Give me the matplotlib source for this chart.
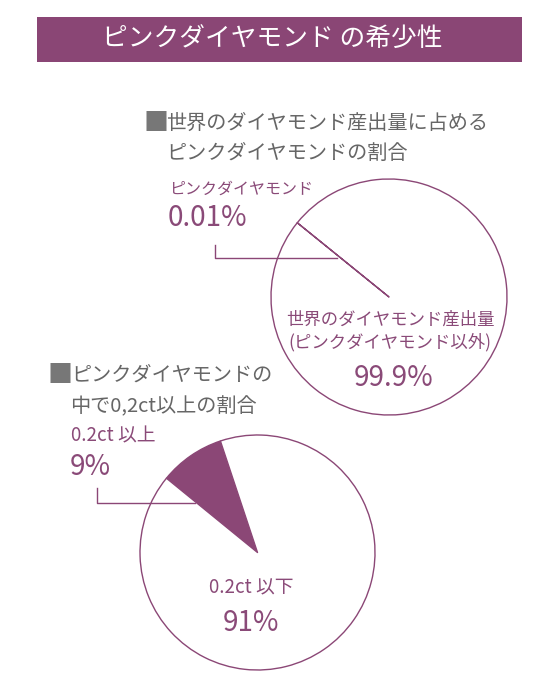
import matplotlib
matplotlib.use("Agg")
import matplotlib.pyplot as plt
from matplotlib.patches import Rectangle

plt.rcParams['font.family'] = ['Noto Sans CJK JP', 'DejaVu Sans']

W, H = 540, 679
purple = '#8b4776'
text_purple = '#8a4a78'
gray = '#666666'

title = 'ピンクダイヤモンド の希少性'

# chart 1: pink diamonds in world production
top_heading = ['■', '世界のダイヤモンド産出量に占める', 'ピンクダイヤモンドの割合']
top_labels = ['ピンクダイヤモンド', '世界のダイヤモンド産出量\n(ピンクダイヤモンド以外)']
top_values = [0.01, 99.99]
top_pct = ['0.01%', '99.9%']

# chart 2: share of 0.2ct and over
bottom_heading = ['■', 'ピンクダイヤモンドの', '中で0,2ct以上の割合']
bottom_labels = ['0.2ct 以上', '0.2ct 以下']
bottom_values = [9, 91]
bottom_pct = ['9%', '91%']


def Y(y):
    return H - y


fig = plt.figure(figsize=(W / 100, H / 100), dpi=100)
ax = fig.add_axes([0, 0, 1, 1])

# title bar
ax.add_patch(Rectangle((37, Y(62)), 485, 45, color='#8a4675', lw=0))
ax.text(272, Y(40), title, color='white', fontsize=18.5, ha='center', va='center')

# --- top pie ---
ax.text(143, Y(123), top_heading[0], color='#777777', fontsize=18, ha='left', va='center')
ax.text(166, Y(123), top_heading[1], color=gray, fontsize=14.5, ha='left', va='center')
ax.text(166, Y(153), top_heading[2], color=gray, fontsize=14.5, ha='left', va='center')

wedges, _ = ax.pie(top_values, colors=[purple, 'white'], startangle=141, radius=118,
                   center=(389, Y(297)),
                   wedgeprops=dict(edgecolor=purple, linewidth=1.0, joinstyle='round'))
wedges[0].set_edgecolor('none')

ax.text(169, Y(189), top_labels[0], color=text_purple, fontsize=11.5, ha='left', va='center')
ax.text(168, Y(218), top_pct[0], color=text_purple, fontsize=20, ha='left', va='center')
ax.plot([215, 215, 337], [Y(245), Y(258), Y(258)], color=purple, lw=1)

ax.text(390, Y(331), top_labels[1], color=text_purple, fontsize=12.5, ha='center', va='center',
        linespacing=1.3)
ax.text(394, Y(378), top_pct[1], color=text_purple, fontsize=20, ha='center', va='center')

# --- bottom pie ---
ax.text(48, Y(375), bottom_heading[0], color='#777777', fontsize=18, ha='left', va='center')
ax.text(71, Y(375), bottom_heading[1], color=gray, fontsize=14.5, ha='left', va='center')
ax.text(70, Y(407), bottom_heading[2], color=gray, fontsize=14.5, ha='left', va='center')

ax.pie(bottom_values, colors=[purple, 'white'], startangle=108.4, radius=117.5,
       center=(257.5, Y(552.5)),
       wedgeprops=dict(edgecolor=purple, linewidth=1.0, joinstyle='round'))

ax.text(71, Y(436), bottom_labels[0], color=text_purple, fontsize=13.5, ha='left', va='center')
ax.text(70, Y(467), bottom_pct[0], color=text_purple, fontsize=20, ha='left', va='center')
ax.plot([97, 97, 195], [Y(488), Y(503), Y(503)], color=purple, lw=1)

ax.text(251, Y(588), bottom_labels[1], color=text_purple, fontsize=13.5, ha='center', va='center')
ax.text(251, Y(623), bottom_pct[1], color=text_purple, fontsize=20, ha='center', va='center')

ax.set_xlim(0, W)
ax.set_ylim(0, H)
ax.set_aspect('auto')
ax.axis('off')

fig.savefig('out.png', dpi=100)
